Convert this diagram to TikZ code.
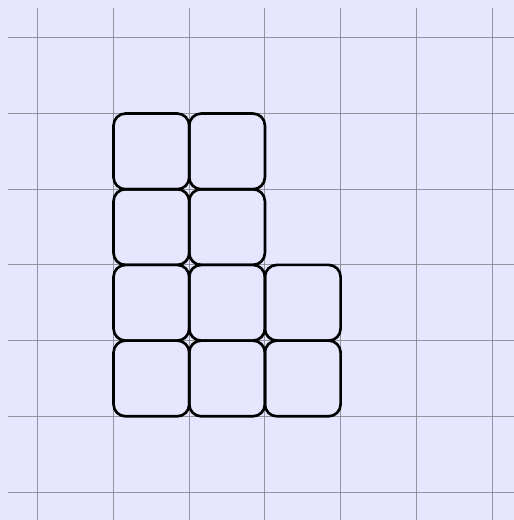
\documentclass[tikz,border=0pt]{standalone}
\definecolor{bgcol}{RGB}{230,230,255}
\definecolor{gridcol}{RGB}{128,128,136}
\tikzset{
  cell/.style={draw=black, line width=1pt, rounded corners=4.5pt, minimum size=1cm, inner sep=0pt, fill=none},
  gridline/.style={draw=gridcol, line width=0.35pt, opacity=0.8}
}
\begin{document}
\begin{tikzpicture}
\fill[bgcol] (-0.5,-0.37) rectangle (6.29,6.5);
\useasboundingbox (-0.5,-0.37) rectangle (6.29,6.5);
\clip (-0.5,-0.37) rectangle (6.29,6.5);
\foreach \i in {0,...,6} {
  \draw[gridline] (\i,-0.4) -- (\i,6.4);
  \draw[gridline] (-0.4,\i) -- (6.4,\i);
}
\node[cell] (a1) at (1.5,1.5) {};
\node[cell] (a2) at (1.5,2.5) {};
\node[cell] (a3) at (1.5,3.5) {};
\node[cell] (a4) at (1.5,4.5) {};
\node[cell] (b1) at (2.5,1.5) {};
\node[cell] (b2) at (2.5,2.5) {};
\node[cell] (b3) at (2.5,3.5) {};
\node[cell] (b4) at (2.5,4.5) {};
\node[cell] (c1) at (3.5,1.5) {};
\node[cell] (c2) at (3.5,2.5) {};
\end{tikzpicture}
\end{document}
